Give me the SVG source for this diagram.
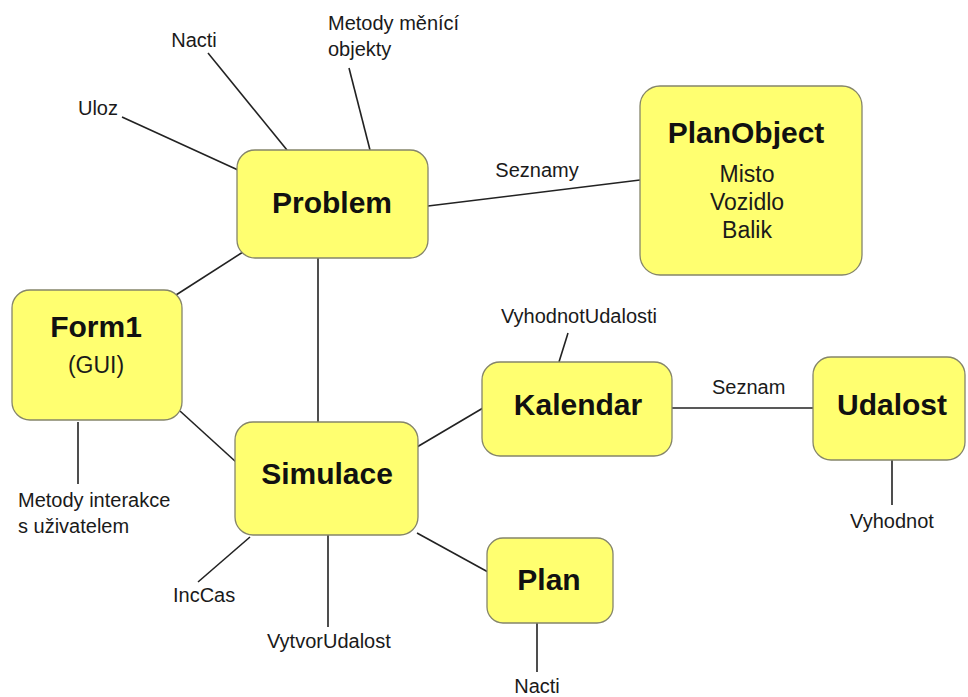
<svg xmlns="http://www.w3.org/2000/svg" width="968" height="697" viewBox="0 0 968 697">
  <style>
    .box { fill: #ffff70; stroke: #85856a; stroke-width: 1.3; }
    .title { font-family: "Liberation Sans", Arial, sans-serif; font-weight: bold; font-size: 30px; fill: #111; text-anchor: middle; }
    .sub { font-family: "Liberation Sans", Arial, sans-serif; font-size: 23px; fill: #1a1a1a; text-anchor: middle; }
    .lbl { font-family: "Liberation Sans", Arial, sans-serif; font-size: 20px; fill: #1a1a1a; }
    .mid { text-anchor: middle; }
    .conn line { stroke: #222; stroke-width: 1.6; }
  </style>
  <rect width="968" height="697" fill="#ffffff"/>

  <!-- connectors -->
  <g class="conn" id="connectors">
    <line x1="122" y1="117" x2="238" y2="170"/>
    <line x1="208" y1="53" x2="287" y2="150"/>
    <line x1="349" y1="68" x2="370" y2="150"/>
    <line x1="428" y1="206" x2="640" y2="180"/>
    <line x1="243" y1="252" x2="176" y2="295"/>
    <line x1="318" y1="258" x2="318" y2="422"/>
    <line x1="180" y1="411" x2="236" y2="462"/>
    <line x1="78" y1="422" x2="78" y2="484"/>
    <line x1="417" y1="447" x2="483" y2="408"/>
    <line x1="417" y1="533" x2="488" y2="572"/>
    <line x1="250" y1="537" x2="198" y2="582"/>
    <line x1="328" y1="535" x2="328" y2="627"/>
    <line x1="568" y1="333" x2="559" y2="362"/>
    <line x1="672" y1="408" x2="813" y2="408"/>
    <line x1="892" y1="460" x2="892" y2="505"/>
    <line x1="537" y1="623" x2="537" y2="672"/>
  </g>

  <!-- free labels -->
  <g id="labels">
    <text class="lbl mid" x="98" y="115">Uloz</text>
    <text class="lbl mid" x="194" y="47">Nacti</text>
    <text class="lbl" x="328" y="30">Metody měnící</text>
    <text class="lbl" x="328" y="56">objekty</text>
    <text class="lbl mid" x="537" y="177">Seznamy</text>
    <text class="lbl" x="18" y="507">Metody interakce</text>
    <text class="lbl" x="18" y="533">s uživatelem</text>
    <text class="lbl" x="173" y="602">IncCas</text>
    <text class="lbl" x="267" y="648">VytvorUdalost</text>
    <text class="lbl" x="501" y="323">VyhodnotUdalosti</text>
    <text class="lbl" x="712" y="394">Seznam</text>
    <text class="lbl mid" x="892" y="528">Vyhodnot</text>
    <text class="lbl mid" x="537" y="693">Nacti</text>
  </g>

  <g id="problem">
    <rect class="box" x="237" y="150" width="191" height="108" rx="18"/>
    <text class="title" x="332" y="213">Problem</text>
  </g>

  <g id="planobject">
    <rect class="box" x="640" y="86" width="222" height="189" rx="20"/>
    <text class="title" x="746" y="143">PlanObject</text>
    <text class="sub" x="747" y="182">Misto</text>
    <text class="sub" x="747" y="210">Vozidlo</text>
    <text class="sub" x="747" y="238">Balik</text>
  </g>

  <g id="form1">
    <rect class="box" x="12" y="290" width="170" height="130" rx="18"/>
    <text class="title" x="96" y="337">Form1</text>
    <text class="sub" x="96" y="373">(GUI)</text>
  </g>

  <g id="simulace">
    <rect class="box" x="235" y="422" width="183" height="113" rx="18"/>
    <text class="title" x="327" y="484">Simulace</text>
  </g>

  <g id="kalendar">
    <rect class="box" x="482" y="362" width="190" height="94" rx="18"/>
    <text class="title" x="578" y="415">Kalendar</text>
  </g>

  <g id="udalost">
    <rect class="box" x="813" y="357" width="152" height="103" rx="18"/>
    <text class="title" x="892" y="415">Udalost</text>
  </g>

  <g id="plan">
    <rect class="box" x="487" y="538" width="126" height="85" rx="16"/>
    <text class="title" x="549" y="590">Plan</text>
  </g>
</svg>
